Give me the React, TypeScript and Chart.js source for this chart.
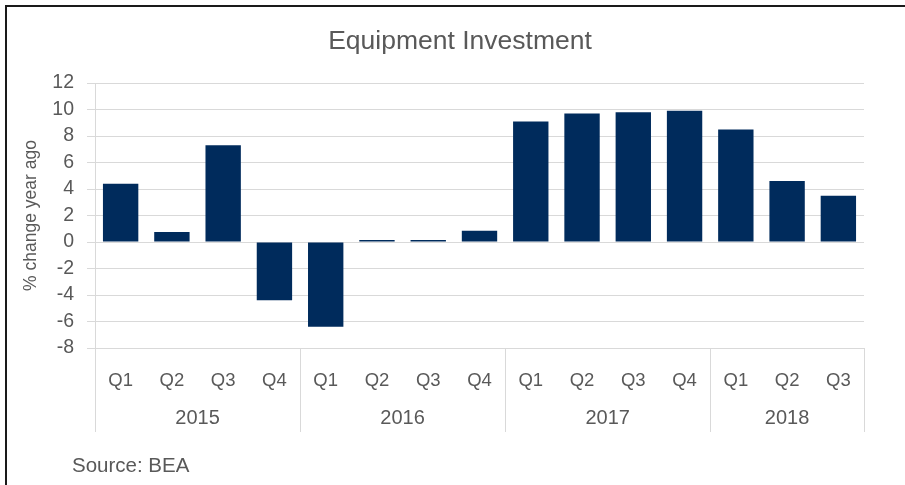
import React, { useEffect, useRef } from "react";
import { Chart, registerables } from "chart.js";

Chart.register(...registerables);

const chartTitle = "Equipment Investment";
const yAxisTitle = "% change year ago";
const sourceNote = "Source: BEA";
const years = ["2015", "2016", "2017", "2018"];
const quartersPerYear = [4, 4, 4, 3];
const quarterLabels = ["Q1", "Q2", "Q3", "Q4", "Q1", "Q2", "Q3", "Q4", "Q1", "Q2", "Q3", "Q4", "Q1", "Q2", "Q3"];
const changeYearAgo = [4.4, 0.75, 7.3, -4.4, -6.4, 0.15, 0.15, 0.85, 9.1, 9.7, 9.8, 9.9, 8.5, 4.6, 3.5];
const yMin = -8;
const yMax = 12;
const yStep = 2;

const TEXT = "#595959";
const GRID = "#d9d9d9";
const BAR = "#002b5c";
const FONT = "'Liberation Sans', Arial, sans-serif";

export default function App() {
  const ref = useRef<HTMLCanvasElement | null>(null);

  useEffect(() => {
    document.body.style.margin = "0";
    const canvas = ref.current;
    if (!canvas) return;

    const groupPlugin = {
      id: "groupPlugin",
      afterDraw(chart: any) {
        const { ctx, chartArea, scales } = chart;
        const x = scales.x;
        const n = quarterLabels.length;
        const w = (x.getPixelForValue(n - 1) - x.getPixelForValue(0)) / (n - 1);
        ctx.save();
        // title
        ctx.fillStyle = TEXT;
        ctx.font = `26.5px ${FONT}`;
        ctx.textAlign = "center";
        ctx.textBaseline = "middle";
        ctx.fillText(chartTitle, 460, 42);
        // separators
        ctx.strokeStyle = GRID;
        ctx.lineWidth = 1;
        let idx = 0;
        const bounds: number[] = [x.getPixelForValue(0) - w / 2];
        const centers: number[] = [];
        for (let g = 0; g < quartersPerYear.length; g++) {
          const first = idx;
          const last = idx + quartersPerYear[g] - 1;
          centers.push((x.getPixelForValue(first) + x.getPixelForValue(last)) / 2);
          bounds.push(x.getPixelForValue(last) + w / 2);
          idx += quartersPerYear[g];
        }
        for (const b of bounds) {
          const bx = Math.round(b) + 0.5;
          ctx.beginPath();
          ctx.moveTo(bx, chartArea.bottom);
          ctx.lineTo(bx, chartArea.bottom + 84);
          ctx.stroke();
        }
        ctx.fillStyle = TEXT;
        ctx.font = `20px ${FONT}`;
        ctx.textAlign = "center";
        ctx.textBaseline = "middle";
        years.forEach((yr, i) => ctx.fillText(yr, centers[i], chartArea.bottom + 70));
        ctx.textAlign = "left";
        ctx.font = `20.5px ${FONT}`;
        ctx.fillText(sourceNote, 72, 466);
        ctx.restore();
      },
    };

    const chart = new Chart(canvas, {
      type: "bar",
      data: {
        labels: quarterLabels,
        datasets: [
          {
            data: changeYearAgo,
            backgroundColor: BAR,
            borderWidth: 0,
            barPercentage: 0.69,
            categoryPercentage: 1,
          },
        ],
      },
      options: {
        responsive: false,
        animation: false,
        devicePixelRatio: 1,
        layout: { padding: { top: 83, left: 0, right: 41, bottom: 0 } },
        plugins: {
          legend: { display: false },
          tooltip: { enabled: false },
          title: { display: false },
        },
        scales: {
          x: {
            type: "category",
            offset: true,
            grid: { display: false },
            border: { display: false },
            ticks: {
              color: TEXT,
              font: { family: FONT, size: 18.5 },
              padding: 14,
              maxRotation: 0,
              autoSkip: false,
            },
            afterFit: (s: any) => {
              s.height = 137;
            },
          },
          y: {
            min: yMin,
            max: yMax,
            ticks: {
              stepSize: yStep,
              color: TEXT,
              font: { family: FONT, size: 19.5 },
              padding: 13,
            },
            grid: { color: GRID, tickLength: 8, lineWidth: 1 },
            border: { display: true, color: GRID },
            title: {
              display: true,
              text: yAxisTitle,
              color: TEXT,
              font: { family: FONT, size: 17.5 },
              padding: { top: 21, bottom: 0 },
            },
            afterFit: (s: any) => {
              s.width = 95;
            },
          },
        },
      },
      plugins: [groupPlugin],
    });

    return () => chart.destroy();
  }, []);

  return (
    <div style={{ position: "fixed", left: 0, top: 0, width: 905, height: 485, overflow: "hidden", background: "#fff" }}>
      <canvas ref={ref} width={905} height={485} style={{ position: "absolute", left: 0, top: 0 }} />
      <div
        style={{
          position: "absolute",
          left: 5,
          top: 5,
          width: 950,
          height: 550,
          borderLeft: "2px solid #1a1a1a",
          borderTop: "2px solid #1a1a1a",
          pointerEvents: "none",
        }}
      />
    </div>
  );
}
